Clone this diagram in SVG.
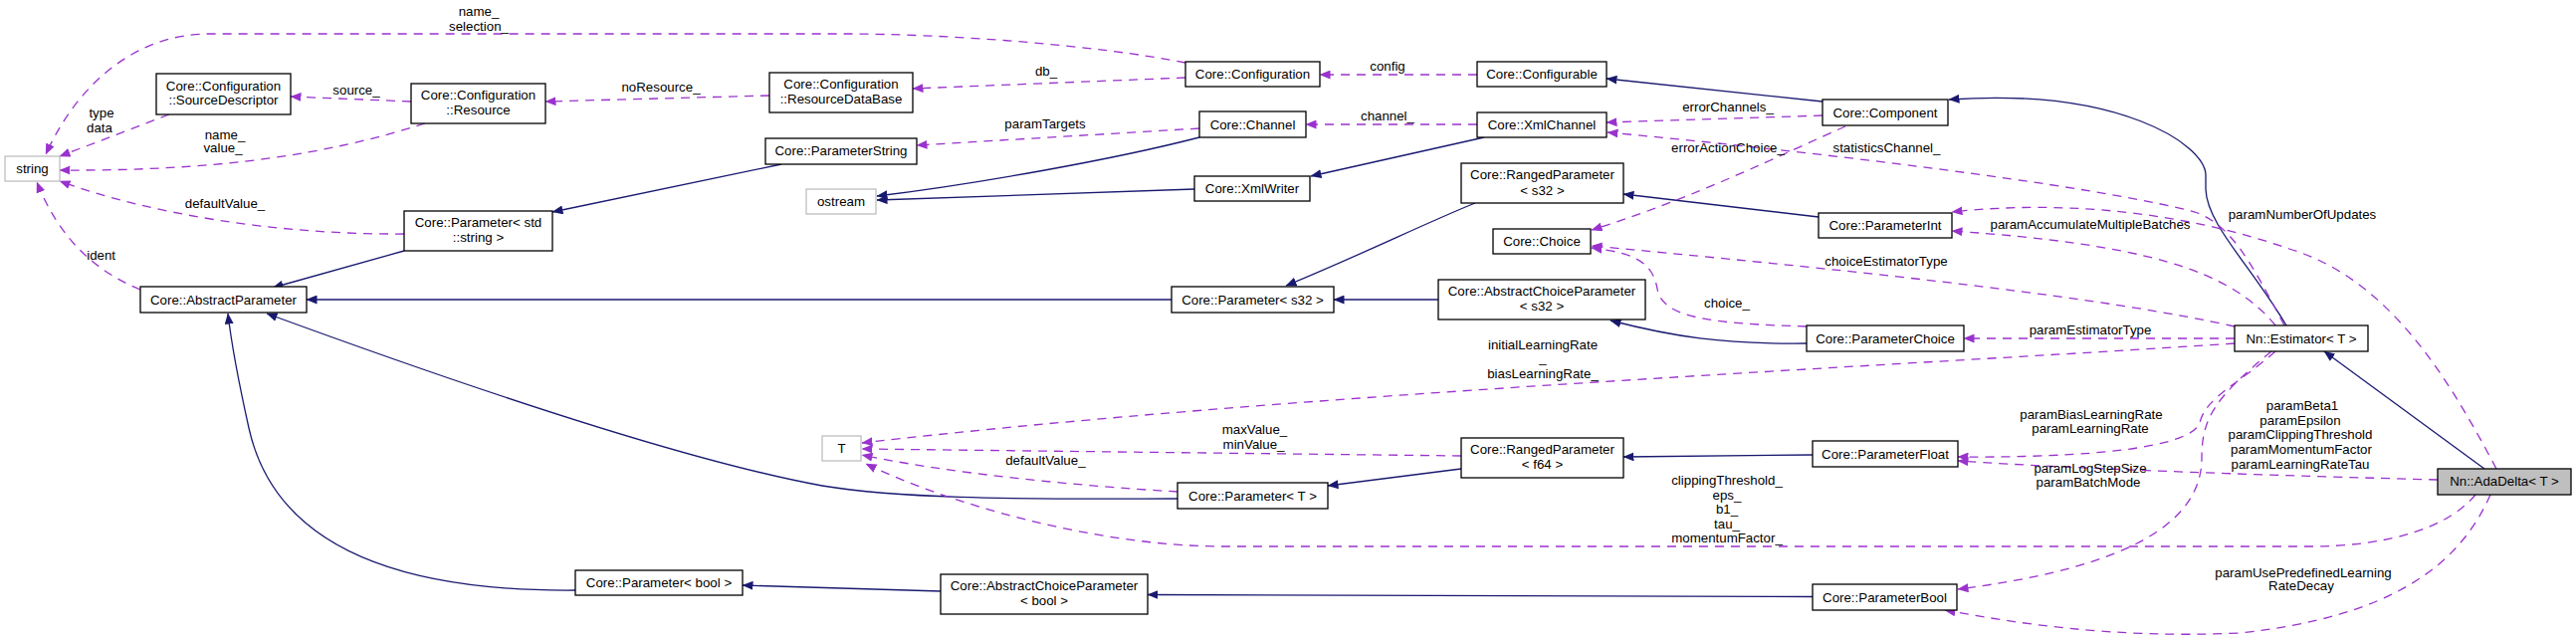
<svg xmlns="http://www.w3.org/2000/svg" width="2588" height="642" viewBox="0 0 2588 642">
<style>
text{font-family:"Liberation Sans",Arial,sans-serif;font-size:13.3px;fill:#000;text-anchor:middle}
.n rect{fill:#fff;stroke:#000;stroke-width:1.3}
.g rect{fill:#fff;stroke:#bfbfbf;stroke-width:1.3}
.h rect{fill:#bfbfbf;stroke:#000;stroke-width:1.3}
.inh{fill:none;stroke:#191970;stroke-width:1.3;marker-end:url(#an)}
.use{fill:none;stroke:#9a32cd;stroke-width:1.3;stroke-dasharray:9,7;marker-end:url(#ap)}
</style>
<defs>
<marker id="an" viewBox="0 0 11 9" refX="10.5" refY="4.5" markerWidth="11" markerHeight="9" markerUnits="userSpaceOnUse" orient="auto"><path d="M0,0 L11,4.5 L0,9 z" fill="#191970"/></marker>
<marker id="ap" viewBox="0 0 11 9" refX="10.5" refY="4.5" markerWidth="11" markerHeight="9" markerUnits="userSpaceOnUse" orient="auto"><path d="M0,0 L11,4.5 L0,9 z" fill="#9a32cd"/></marker>
</defs>
<rect width="2588" height="642" fill="#fff"/>
<g id="connectors">
<path class="inh" d="M1831,102 L1614,79"/>
<path class="inh" d="M2297,327 C2260,265 2217,225 2216,190 L2216,175 C2214,145 2130,88 1958,100"/>
<path class="inh" d="M1205,138 C1120,160 980,185 881,197"/>
<path class="inh" d="M1200,190 L881,201"/>
<path class="inh" d="M1491,138 L1317,177"/>
<path class="inh" d="M785,165 L555,213"/>
<path class="inh" d="M406,252 L274,289"/>
<path class="inh" d="M1177,301 L308,301"/>
<path class="inh" d="M1482,204 C1430,225 1370,255 1292,287"/>
<path class="inh" d="M1445,301 L1340,301"/>
<path class="inh" d="M1827,218 L1631,195"/>
<path class="inh" d="M1815,345 C1730,346 1680,338 1618,322"/>
<path class="inh" d="M1183,501 C1000,502 900,500 826,488 C700,465 500,400 268,315"/>
<path class="inh" d="M578,593 C350,595 270,520 250,430 C240,385 233,350 229,315"/>
<path class="inh" d="M1468,471 L1334,488"/>
<path class="inh" d="M1821,457 L1631,459"/>
<path class="inh" d="M945,594 L746,588"/>
<path class="inh" d="M1821,599.5 L1153,597.5"/>
<path class="inh" d="M2496,471 L2335,353"/>
<path class="use" d="M1191,63 C1100,45 950,34 850,34 L210,34 C140,34 80,80 46,155"/>
<path class="use" d="M170,115 L60,157"/>
<path class="use" d="M427,124 C330,155 220,172 60,171"/>
<path class="use" d="M406,235 C280,236 150,215 60,182"/>
<path class="use" d="M141,291 C95,272 60,240 37,183"/>
<path class="use" d="M413,102 L292,97"/>
<path class="use" d="M773,96 L548,102"/>
<path class="use" d="M1191,78 L917,89"/>
<path class="use" d="M1484,75 L1326,75"/>
<path class="use" d="M1484,125 L1312,125"/>
<path class="use" d="M1205,129 L921,146"/>
<path class="use" d="M1831,116 L1614,123"/>
<path class="use" d="M2295,327 C2260,260 2240,225 2205,213 C2100,185 1800,150 1615,133"/>
<path class="use" d="M1854,127 C1790,155 1700,200 1599,231"/>
<path class="use" d="M2245,328 C2120,300 1900,275 1599,247"/>
<path class="use" d="M1815,328 C1720,325 1670,320 1665,290 C1660,262 1640,254 1599,249"/>
<path class="use" d="M2245,340 L1973,340"/>
<path class="use" d="M2245,345 C1900,368 1300,395 866,445"/>
<path class="use" d="M1468,458 L866,451"/>
<path class="use" d="M1183,494 C1080,488 950,475 866,457"/>
<path class="use" d="M2487,497 C2460,530 2400,549 2320,549 L1230,549 C1100,549 950,505 870,466"/>
<path class="use" d="M2286,353 C2250,385 2215,400 2210,425 C2200,450 2100,460 1967,459"/>
<path class="use" d="M2449,482 C2300,478 2100,472 1967,463"/>
<path class="use" d="M2282,353 C2225,400 2212,420 2212,460 C2212,540 2100,575 1967,592"/>
<path class="use" d="M2508,471 C2460,380 2400,280 2300,250 C2200,215 2080,200 1961,213"/>
<path class="use" d="M2286,327 C2240,270 2150,245 1961,232"/>
<path class="use" d="M2502,497 C2470,570 2400,620 2250,636 C2120,642 2020,625 1954,613"/>
</g>
<g id="labels">
<text x="481" y="16">name_</text><text x="481" y="31">selection_</text>
<text x="102" y="117.5">type</text><text x="100" y="132.5">data</text>
<text x="358" y="95">source_</text>
<text x="226" y="139.5">name_</text><text x="224" y="153">value_</text>
<text x="226" y="208.5">defaultValue_</text>
<text x="101.6" y="261">ident</text>
<text x="664" y="92">noResource_</text>
<text x="1051" y="75.5">db_</text>
<text x="1050" y="128.5">paramTargets</text>
<text x="1394" y="71">config</text>
<text x="1394" y="121">channel_</text>
<text x="1736" y="112">errorChannels_</text>
<text x="1736" y="153">errorActionChoice_</text>
<text x="1895.5" y="153">statisticsChannel_</text>
<text x="1895" y="267">choiceEstimatorType</text>
<text x="1735" y="308.5">choice_</text>
<text x="2100" y="229.5">paramAccumulateMultipleBatches</text>
<text x="2313" y="220">paramNumberOfUpdates</text>
<text x="2100" y="336">paramEstimatorType</text>
<text x="1550" y="351">initialLearningRate</text><text x="1550" y="364">_</text><text x="1550" y="380">biasLearningRate_</text>
<text x="1260.5" y="436">maxValue_</text><text x="1259.5" y="451">minValue_</text>
<text x="1050.4" y="467">defaultValue_</text>
<text x="1735" y="487">clippingThreshold_</text><text x="1735" y="501.5">eps_</text><text x="1735" y="516">b1_</text><text x="1735" y="530.5">tau_</text><text x="1735" y="545">momentumFactor_</text>
<text x="2101" y="420.5">paramBiasLearningRate</text><text x="2100" y="435">paramLearningRate</text>
<text x="2100" y="475">paramLogStepSize</text><text x="2098" y="489">paramBatchMode</text>
<text x="2313" y="412">paramBeta1</text><text x="2311" y="427">paramEpsilon</text><text x="2311" y="441">paramClippingThreshold</text><text x="2312" y="456">paramMomentumFactor</text><text x="2311" y="471">paramLearningRateTau</text>
<text x="2314" y="579.5">paramUsePredefinedLearning</text><text x="2312" y="593">RateDecay</text>
</g>
<g id="string" class="g"><rect x="5" y="157" width="55" height="25"/><text x="32.5" y="174">string</text></g>
<g id="sourcedescriptor" class="n"><rect x="157" y="74" width="135" height="41"/><text x="224.5" y="91">Core::Configuration</text><text x="224.5" y="105">::SourceDescriptor</text></g>
<g id="resource" class="n"><rect x="413" y="84" width="135" height="40"/><text x="480.5" y="100">Core::Configuration</text><text x="480.5" y="114.5">::Resource</text></g>
<g id="parameter_string" class="n"><rect x="406" y="212" width="149" height="40"/><text x="480.5" y="228">Core::Parameter&lt; std</text><text x="480.5" y="243">::string &gt;</text></g>
<g id="abstractparameter" class="n"><rect x="141" y="288" width="167" height="26"/><text x="224.5" y="305.5">Core::AbstractParameter</text></g>
<g id="resourcedatabase" class="n"><rect x="773" y="73" width="144" height="40"/><text x="845" y="89">Core::Configuration</text><text x="845" y="104">::ResourceDataBase</text></g>
<g id="parameterstring" class="n"><rect x="769" y="139" width="152" height="26"/><text x="845" y="156">Core::ParameterString</text></g>
<g id="ostream" class="g"><rect x="810" y="190" width="70" height="25"/><text x="845" y="207">ostream</text></g>
<g id="configuration" class="n"><rect x="1191" y="62" width="135" height="25"/><text x="1258.5" y="79">Core::Configuration</text></g>
<g id="channel" class="n"><rect x="1205" y="112" width="107" height="26"/><text x="1258.5" y="130">Core::Channel</text></g>
<g id="xmlwriter" class="n"><rect x="1200" y="177" width="116" height="25"/><text x="1258" y="194">Core::XmlWriter</text></g>
<g id="parameter_s32" class="n"><rect x="1177" y="288" width="163" height="26"/><text x="1258.5" y="305.5">Core::Parameter&lt; s32 &gt;</text></g>
<g id="configurable" class="n"><rect x="1484" y="62" width="130" height="25"/><text x="1549" y="79">Core::Configurable</text></g>
<g id="xmlchannel" class="n"><rect x="1484" y="113" width="130" height="25"/><text x="1549" y="130">Core::XmlChannel</text></g>
<g id="rangedparameter_s32" class="n"><rect x="1468" y="164" width="163" height="40"/><text x="1549.5" y="180">Core::RangedParameter</text><text x="1549.5" y="195.5">&lt; s32 &gt;</text></g>
<g id="choice" class="n"><rect x="1500" y="230" width="98" height="25"/><text x="1549" y="247">Core::Choice</text></g>
<g id="abstractchoiceparameter_s32" class="n"><rect x="1445" y="281" width="208" height="40"/><text x="1549" y="297">Core::AbstractChoiceParameter</text><text x="1549" y="312">&lt; s32 &gt;</text></g>
<g id="component" class="n"><rect x="1831" y="100" width="126" height="26"/><text x="1894" y="117.5">Core::Component</text></g>
<g id="parameterint" class="n"><rect x="1827" y="214" width="134" height="25"/><text x="1894" y="231">Core::ParameterInt</text></g>
<g id="parameterchoice" class="n"><rect x="1815" y="327" width="158" height="26"/><text x="1894" y="344.5">Core::ParameterChoice</text></g>
<g id="estimator" class="n"><rect x="2245" y="327" width="134" height="26"/><text x="2312" y="344.5">Nn::Estimator&lt; T &gt;</text></g>
<g id="T" class="g"><rect x="826" y="438" width="39" height="25"/><text x="845.5" y="455">T</text></g>
<g id="parameter_bool" class="n"><rect x="578" y="573" width="168" height="25"/><text x="662" y="590">Core::Parameter&lt; bool &gt;</text></g>
<g id="abstractchoiceparameter_bool" class="n"><rect x="945" y="577" width="208" height="40"/><text x="1049" y="593">Core::AbstractChoiceParameter</text><text x="1049" y="608">&lt; bool &gt;</text></g>
<g id="parameter_T" class="n"><rect x="1183" y="485" width="151" height="26"/><text x="1258.5" y="502.5">Core::Parameter&lt; T &gt;</text></g>
<g id="rangedparameter_f64" class="n"><rect x="1468" y="440" width="163" height="40"/><text x="1549.5" y="456">Core::RangedParameter</text><text x="1549.5" y="471">&lt; f64 &gt;</text></g>
<g id="parameterfloat" class="n"><rect x="1821" y="443" width="146" height="26"/><text x="1894" y="460.5">Core::ParameterFloat</text></g>
<g id="parameterbool" class="n"><rect x="1821" y="587" width="145" height="26"/><text x="1893.5" y="604.5">Core::ParameterBool</text></g>
<g id="adadelta" class="h"><rect x="2449" y="471" width="134" height="26"/><text x="2516" y="488">Nn::AdaDelta&lt; T &gt;</text></g>
</svg>
